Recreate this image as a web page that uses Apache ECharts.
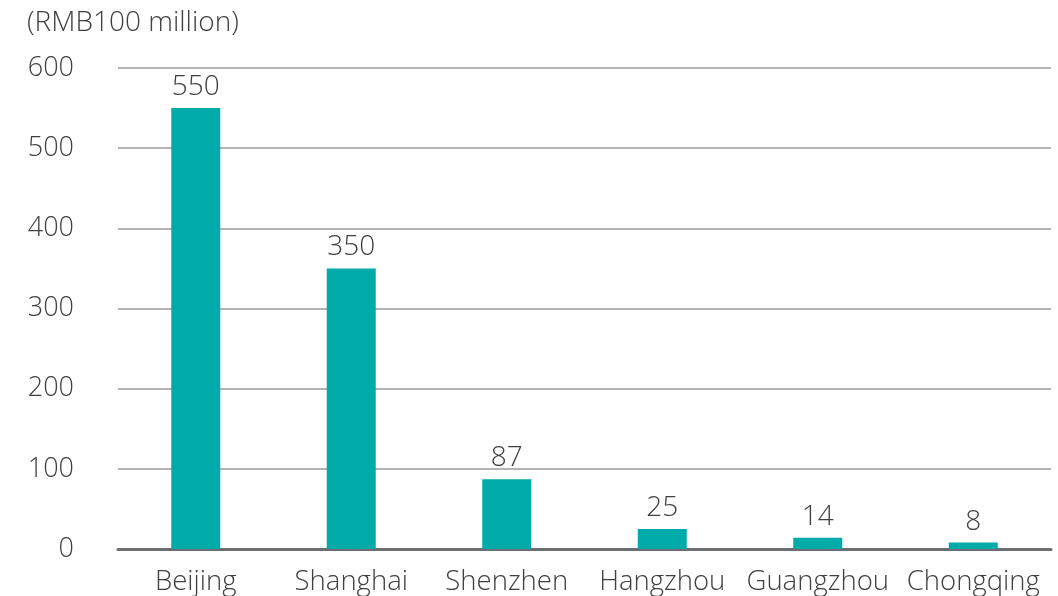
<!DOCTYPE html>
<html><head><meta charset="utf-8">
<script src="https://cdn.jsdelivr.net/npm/echarts@6/dist/echarts.min.js"></script>
<style>html,body{margin:0;padding:0;background:#fff}#c{width:1058px;height:596px}</style>
</head><body><div id="c"></div>
<script>
const categories = ['Beijing','Shanghai','Shenzhen','Hangzhou','Guangzhou','Chongqing'];
const values = [550, 350, 87, 25, 14, 8];
const unitLabel = '(RMB100 million)';
const FONT = '"Open Sans", "Noto Sans", sans-serif';
const TXT = '#404040';
const chart = echarts.init(document.getElementById('c'));
chart.setOption({
  animation: false,
  textStyle: { fontFamily: FONT },
  graphic: [{ type: 'text', left: 27, top: 9, style: { text: unitLabel, fontSize: 28, fontFamily: FONT, fontWeight: 300, fill: TXT } }],
  grid: { left: 118, right: 7, top: 68, bottom: 47, containLabel: false },
  xAxis: {
    type: 'category', data: categories,
    axisLine: { lineStyle: { color: '#6d6e71', width: 3 } },
    axisTick: { show: false },
    axisLabel: { fontSize: 27.5, color: TXT, fontFamily: FONT, fontWeight: 300, margin: 19, interval: 0 }
  },
  yAxis: {
    type: 'value', min: 0, max: 600, interval: 100,
    axisLine: { show: false }, axisTick: { show: false },
    splitLine: { lineStyle: { color: '#9a9b9e', width: 1.5 } },
    axisLabel: { fontSize: 27, color: TXT, fontFamily: FONT, fontWeight: 300, margin: 44 }
  },
  series: [{
    type: 'bar', data: values, barWidth: 49,
    itemStyle: { color: '#00abaa' },
    label: { show: true, position: 'top', distance: 7, fontSize: 28, color: TXT, fontFamily: FONT, fontWeight: 300 }
  }]
});
</script></body></html>
